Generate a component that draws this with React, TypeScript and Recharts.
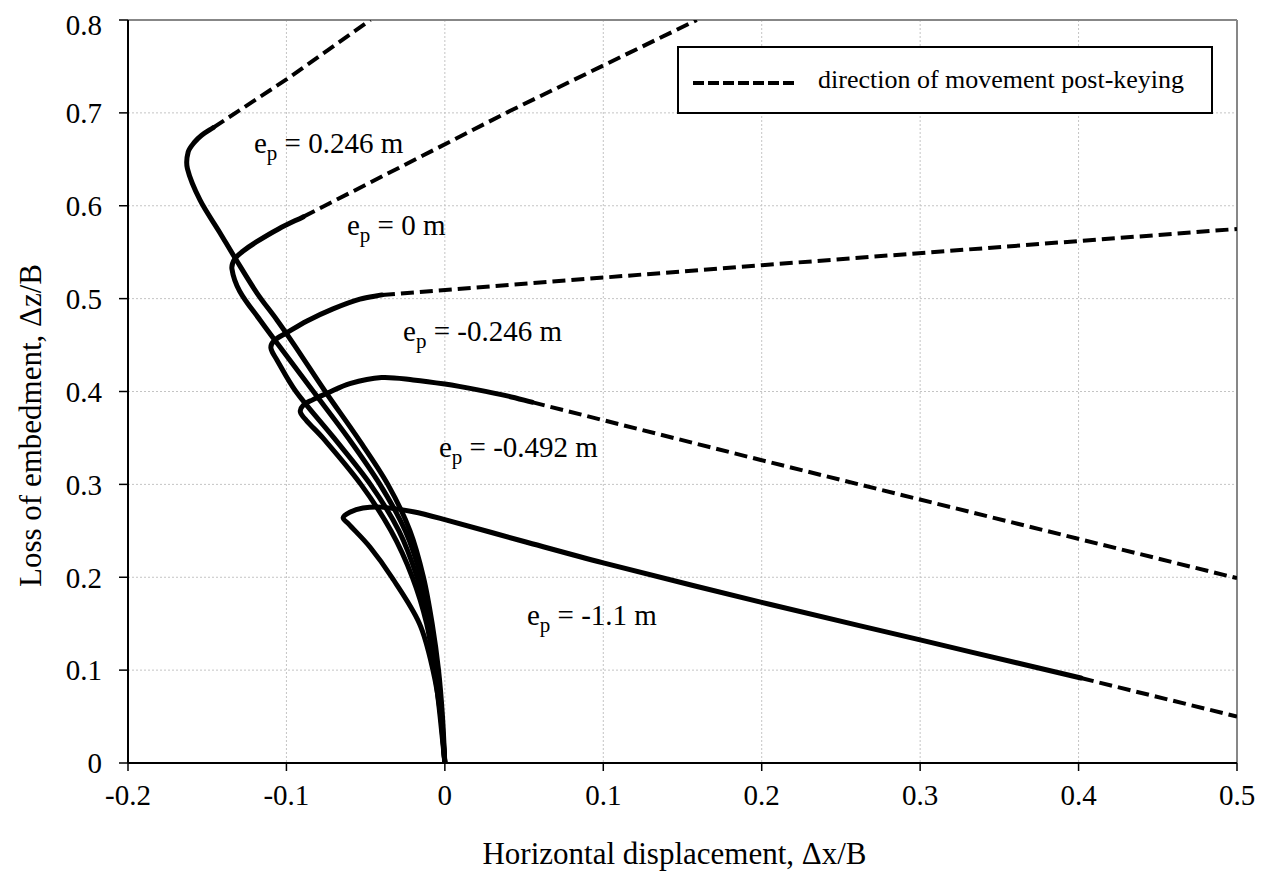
import React from "react";
import {
  CartesianGrid,
  Legend,
  Line,
  LineChart,
  ReferenceDot,
  ReferenceLine,
  XAxis,
  YAxis,
} from "recharts";

const SERIF = "'Liberation Serif', 'Times New Roman', serif";

const xTicks = [-0.2, -0.1, 0, 0.1, 0.2, 0.3, 0.4, 0.5];
const yTicks = [0, 0.1, 0.2, 0.3, 0.4, 0.5, 0.6, 0.7, 0.8];
const xMinorTicks = [
  -0.2, -0.18, -0.16, -0.14, -0.12, -0.1, -0.08, -0.06, -0.04, -0.02, 0, 0.02,
  0.04, 0.06, 0.08, 0.1, 0.12, 0.14, 0.16, 0.18, 0.2, 0.22, 0.24, 0.26, 0.28,
  0.3, 0.32, 0.34, 0.36, 0.38, 0.4, 0.42, 0.44, 0.46, 0.48, 0.5,
];
const yMinorTicks = [
  0, 0.02, 0.04, 0.06, 0.08, 0.1, 0.12, 0.14, 0.16, 0.18, 0.2, 0.22, 0.24, 0.26,
  0.28, 0.3, 0.32, 0.34, 0.36, 0.38, 0.4, 0.42, 0.44, 0.46, 0.48, 0.5, 0.52,
  0.54, 0.56, 0.58, 0.6, 0.62, 0.64, 0.66, 0.68, 0.7, 0.72, 0.74, 0.76, 0.78,
  0.8,
];

// e_p = 0.246 m
const ep0246Solid = [
  { x: 0, y: 0 }, { x: -0.0015, y: 0.05 }, { x: -0.004, y: 0.1 },
  { x: -0.008, y: 0.15 }, { x: -0.0135, y: 0.2 }, { x: -0.022, y: 0.25 },
  { x: -0.036, y: 0.3 }, { x: -0.055, y: 0.35 }, { x: -0.0755, y: 0.4 },
  { x: -0.095, y: 0.45 }, { x: -0.106, y: 0.477 }, { x: -0.1186, y: 0.506 },
  { x: -0.1325, y: 0.544 }, { x: -0.142, y: 0.571 }, { x: -0.1545, y: 0.606 },
  { x: -0.1625, y: 0.64 }, { x: -0.162, y: 0.658 }, { x: -0.158, y: 0.6685 },
  { x: -0.1535, y: 0.676 }, { x: -0.1463, y: 0.684 },
];
const ep0246Dash = [
  { x: -0.1463, y: 0.684 }, { x: -0.1, y: 0.736 }, { x: -0.047, y: 0.8 },
];

// e_p = 0 m
const ep0Solid = [
  { x: 0, y: 0 }, { x: -0.002, y: 0.05 }, { x: -0.0045, y: 0.1 },
  { x: -0.009, y: 0.15 }, { x: -0.015, y: 0.2 }, { x: -0.025, y: 0.25 },
  { x: -0.041, y: 0.3 }, { x: -0.061, y: 0.35 }, { x: -0.083, y: 0.4 },
  { x: -0.105, y: 0.45 }, { x: -0.1167, y: 0.477 }, { x: -0.1295, y: 0.508 },
  { x: -0.1344, y: 0.532 }, { x: -0.1325, y: 0.543 }, { x: -0.1275, y: 0.551 },
  { x: -0.119, y: 0.561 }, { x: -0.105, y: 0.575 }, { x: -0.0895, y: 0.588 },
];
const ep0Dash = [
  { x: -0.0895, y: 0.588 }, { x: 0.041, y: 0.702 }, { x: 0.159, y: 0.8 },
];

// e_p = -0.246 m
const epm0246Solid = [
  { x: 0, y: 0 }, { x: -0.0025, y: 0.05 }, { x: -0.0055, y: 0.1 },
  { x: -0.01, y: 0.15 }, { x: -0.0175, y: 0.2 }, { x: -0.029, y: 0.25 },
  { x: -0.047, y: 0.3 }, { x: -0.07, y: 0.35 }, { x: -0.094, y: 0.4 },
  { x: -0.106, y: 0.434 }, { x: -0.1098, y: 0.447 }, { x: -0.1075, y: 0.455 },
  { x: -0.1, y: 0.463 }, { x: -0.087, y: 0.476 }, { x: -0.0706, y: 0.489 },
  { x: -0.0536, y: 0.4995 }, { x: -0.0397, y: 0.504 },
];
const epm0246Dash = [
  { x: -0.0397, y: 0.504 }, { x: 0.2, y: 0.536 }, { x: 0.5, y: 0.575 },
];

// e_p = -0.492 m
const epm0492Solid = [
  { x: 0, y: 0 }, { x: -0.003, y: 0.05 }, { x: -0.0065, y: 0.1 },
  { x: -0.0115, y: 0.15 }, { x: -0.0205, y: 0.2 }, { x: -0.034, y: 0.25 },
  { x: -0.053, y: 0.3 }, { x: -0.077, y: 0.35 }, { x: -0.0875, y: 0.369 },
  { x: -0.0912, y: 0.378 }, { x: -0.0895, y: 0.385 }, { x: -0.0835, y: 0.391 },
  { x: -0.0744, y: 0.398 }, { x: -0.06, y: 0.4085 }, { x: -0.04, y: 0.415 },
  { x: -0.02, y: 0.4125 }, { x: 0, y: 0.408 }, { x: 0.02, y: 0.402 },
  { x: 0.04, y: 0.395 }, { x: 0.055, y: 0.3885 },
];
const epm0492Dash = [
  { x: 0.055, y: 0.3885 }, { x: 0.2, y: 0.326 }, { x: 0.5, y: 0.199 },
];

// e_p = -1.1 m
const epm11Solid = [
  { x: 0, y: 0 }, { x: -0.0025, y: 0.05 }, { x: -0.0075, y: 0.1 },
  { x: -0.016, y: 0.15 }, { x: -0.0335, y: 0.2 }, { x: -0.0473, y: 0.2326 },
  { x: -0.0608, y: 0.2575 }, { x: -0.0642, y: 0.264 }, { x: -0.06, y: 0.27 },
  { x: -0.0517, y: 0.2745 }, { x: -0.04, y: 0.2755 }, { x: -0.02, y: 0.2705 },
  { x: 0, y: 0.262 }, { x: 0.05, y: 0.2385 }, { x: 0.1, y: 0.2155 },
  { x: 0.2, y: 0.173 }, { x: 0.3, y: 0.1325 }, { x: 0.4015, y: 0.0915 },
];
const epm11Dash = [{ x: 0.4015, y: 0.0915 }, { x: 0.5, y: 0.05 }];

const solidSeries = [ep0246Solid, ep0Solid, epm0246Solid, epm0492Solid, epm11Solid];
const dashSeries = [ep0246Dash, ep0Dash, epm0246Dash, epm0492Dash, epm11Dash];

const epLabels = [
  { x: -0.1205, y: 0.657, text: "0.246 m" },
  { x: -0.0618, y: 0.5685, text: "0 m" },
  { x: -0.0264, y: 0.4544, text: "-0.246 m" },
  { x: -0.0037, y: 0.3295, text: "-0.492 m" },
  { x: 0.0518, y: 0.1486, text: "-1.1 m" },
];

// smooth curve through the points (chord-scaled Catmull-Rom), like Excel's smoothed lines
const smooth = (context: any) => {
  let pts: number[][] = [];
  const dist = (a: number[], b: number[]) => Math.hypot(b[0] - a[0], b[1] - a[1]) || 1e-6;
  const tangent = (i: number) => {
    const n = pts.length;
    const a = pts[Math.max(0, i - 1)];
    const b = pts[Math.min(n - 1, i + 1)];
    const d = i === 0 || i === n - 1 ? dist(a, b) : dist(a, pts[i]) + dist(pts[i], b);
    return [(b[0] - a[0]) / d, (b[1] - a[1]) / d];
  };
  return {
    areaStart() {},
    areaEnd() {},
    lineStart() {
      pts = [];
    },
    point(x: number, y: number) {
      pts.push([x, y]);
    },
    lineEnd() {
      if (!pts.length) return;
      context.moveTo(pts[0][0], pts[0][1]);
      for (let i = 0; i < pts.length - 1; i++) {
        const d = dist(pts[i], pts[i + 1]) / 3;
        const t0 = tangent(i);
        const t1 = tangent(i + 1);
        context.bezierCurveTo(
          pts[i][0] + t0[0] * d, pts[i][1] + t0[1] * d,
          pts[i + 1][0] - t1[0] * d, pts[i + 1][1] - t1[1] * d,
          pts[i + 1][0], pts[i + 1][1]
        );
      }
    },
  };
};

const EpText = ({ cx, cy, text }: any) => (
  <text x={cx} y={cy} fontSize={29} fontFamily={SERIF} fill="#000" style={{ whiteSpace: "pre" }}>
    e
    <tspan fontSize={21} dy={7}>p</tspan>
    <tspan dy={-7}>{" = " + text}</tspan>
  </text>
);

const LegendBox = () => (
  <svg width={536} height={68} style={{ display: "block" }}>
    <rect x={1} y={1} width={534} height={66} fill="#fff" stroke="#000" strokeWidth={2} />
    <line x1={16} y1={37} x2={121} y2={37} stroke="#000" strokeWidth={4} strokeDasharray="11 4" />
    <text x={141} y={42} fontSize={26} fontFamily={SERIF} fill="#000">
      direction of movement post-keying
    </text>
  </svg>
);

const XTitle = ({ viewBox }: any) => (
  <text
    x={viewBox.x + viewBox.width / 2 - 8}
    y={viewBox.y + 101}
    textAnchor="middle"
    fontSize={31}
    fontFamily={SERIF}
    fill="#000"
  >
    Horizontal displacement, Δx/B
  </text>
);

const YTitle = ({ viewBox }: any) => {
  const x = viewBox.x + 33;
  const y = viewBox.y + viewBox.height / 2 + 34;
  return (
    <text x={x} y={y} transform={`rotate(-90 ${x} ${y})`} textAnchor="middle" fontSize={31} fontFamily={SERIF} fill="#000">
      Loss of embedment, Δz/B
    </text>
  );
};

const tickStyle = { fontSize: 29, fontFamily: SERIF, fill: "#000" };

export default function App() {
  return (
    <LineChart width={1257} height={866} margin={{ top: 12, right: 28, left: 0, bottom: 0 }}>
      <CartesianGrid stroke="#c4c4c4" strokeDasharray="2 2" />
      <XAxis
        type="number"
        dataKey="x"
        domain={[-0.2, 0.5]}
        ticks={xTicks}
        allowDataOverflow
        height={111}
        tickSize={8}
        tickMargin={13}
        tick={tickStyle}
        axisLine={{ stroke: "#000", strokeWidth: 2 }}
        tickLine={{ stroke: "#000", strokeWidth: 1.5 }}
        label={{ content: <XTitle /> }}
      />
      <XAxis
        xAxisId="minor"
        type="number"
        domain={[-0.2, 0.5]}
        ticks={xMinorTicks}
        allowDataOverflow
        mirror
        height={0}
        tick={false}
        axisLine={false}
        tickSize={6}
        tickLine={{ stroke: "#000", strokeWidth: 1.5 }}
      />
      <YAxis
        type="number"
        domain={[0, 0.8]}
        ticks={yTicks}
        allowDataOverflow
        width={120}
        tickSize={9}
        tickMargin={17}
        tick={tickStyle}
        axisLine={{ stroke: "#000", strokeWidth: 2 }}
        tickLine={{ stroke: "#000", strokeWidth: 1.5 }}
        label={{ content: <YTitle /> }}
      />
      <YAxis
        yAxisId="minor"
        type="number"
        domain={[0, 0.8]}
        ticks={yMinorTicks}
        allowDataOverflow
        mirror
        width={0}
        tick={false}
        axisLine={false}
        tickSize={6}
        tickLine={{ stroke: "#000", strokeWidth: 1.5 }}
      />
      <ReferenceLine y={0.8} stroke="#878787" strokeWidth={2} />
      <ReferenceLine x={0.5} stroke="#878787" strokeWidth={2} />
      {dashSeries.map((d, i) => (
        <Line
          key={"dash" + i}
          data={d}
          dataKey="y"
          type="linear"
          stroke="#000"
          strokeWidth={4}
          strokeDasharray="13 6"
          dot={false}
          activeDot={false}
          isAnimationActive={false}
        />
      ))}
      {solidSeries.map((d, i) => (
        <Line
          key={"solid" + i}
          data={d}
          dataKey="y"
          type={smooth as any}
          stroke="#000"
          strokeWidth={5}
          strokeLinecap="round"
          strokeLinejoin="round"
          dot={false}
          activeDot={false}
          isAnimationActive={false}
        />
      ))}
      {epLabels.map((l) => (
        <ReferenceDot
          key={l.text}
          x={l.x}
          y={l.y}
          r={0}
          shape={(p: any) => <EpText cx={p.cx} cy={p.cy} text={l.text} />}
        />
      ))}
      <Legend
        layout="horizontal"
        verticalAlign="middle"
        align="center"
        content={<LegendBox />}
        wrapperStyle={{ left: 669, top: 38, width: 536, height: 68 }}
      />
    </LineChart>
  );
}
